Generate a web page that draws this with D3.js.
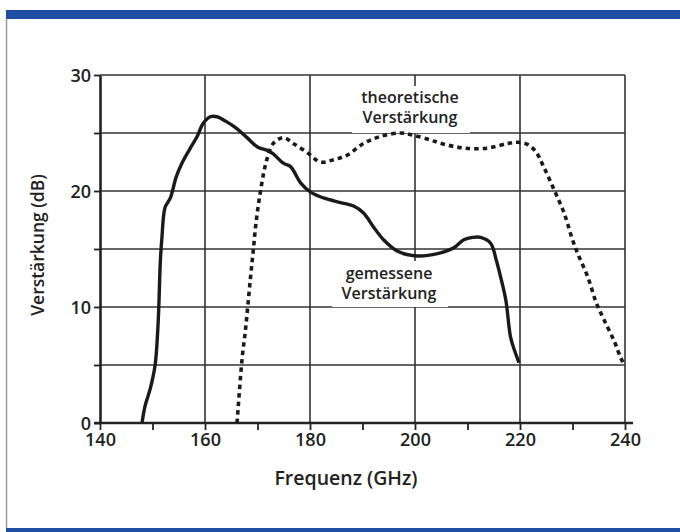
<!DOCTYPE html>
<html><head><meta charset="utf-8">
<script src="https://cdn.jsdelivr.net/npm/d3@7/dist/d3.min.js"></script>
<style>
html,body{margin:0;padding:0;background:#fff;}
svg{display:block;}
text{font-family:"Open Sans",sans-serif;fill:#222;}
</style></head>
<body>
<script>
// ---- data ----
const measuredFreq = [148.0,148.6,149.6,150.5,151.0,151.2,151.5,151.8,152.4,153.4,154.5,155.6,157.2,158.5,159.6,161.0,162.3,164.0,166.0,168.0,170.0,171.9,173.0,174.9,176.3,178.2,180.1,182.6,185.8,188.3,190.2,192.1,194.0,196.7,200.5,204.3,207.4,209.3,211.0,212.5,214.4,215.5,216.3,217.3,218.2,219.0,219.8];
const measuredGain = [0,1.5,3,5,8,10,14,16,18.6,19.4,21.2,22.4,23.7,24.7,25.8,26.4,26.4,26.0,25.4,24.6,23.8,23.5,23.2,22.4,22.1,20.7,19.9,19.4,19.0,18.7,18.1,16.9,15.8,14.8,14.4,14.6,15.1,15.8,16.0,16.0,15.5,14.0,12.6,10.6,7.4,6.2,5.2];
const theoryFreq = [166.1,166.6,167.1,167.7,168.2,168.7,169.2,169.7,170.4,171.2,171.9,173.0,174.9,176.8,179.5,182.0,184.5,187.1,190.2,193.4,197.3,199.7,203.0,205.0,209.3,213.9,217.7,219.6,221.5,223.0,224.5,226.5,228.4,230.0,231.0,232.9,234.5,236.0,238.0,239.2,239.8];
const theoryGain = [0,3,5.7,8,10.3,12.7,14.9,17.2,19.5,21.6,22.9,24.1,24.6,24.1,23.3,22.5,22.7,23.1,24.1,24.7,25.0,24.8,24.4,24.1,23.7,23.7,24.1,24.2,24.0,23.4,22.1,20.1,18.1,15.8,14.6,12.6,10.4,8.9,7.0,5.6,5.1];
const xTickValues = [140,150,160,170,180,190,200,210,220,230,240];
const xTickLabels = ["140","","160","","180","","200","","220","","240"];
const yTickValues = [0,5,10,15,20,25,30];
const yTickLabels = ["0","","10","","20","","30"];
const xGrid = [160,180,200,220,240];
const yGrid = [5,10,15,20,25,30];
const xTitle = "Frequenz (GHz)";
const yTitle = "Verstärkung (dB)";
const theoryLabel = ["theoretische","Verstärkung"];
const measuredLabel = ["gemessene","Verstärkung"];

const W = 680, H = 532;
const svg = d3.select("body").append("svg").attr("width", W).attr("height", H);

// frame decoration
svg.append("rect").attr("x",6).attr("y",10).attr("width",W-6).attr("height",9).attr("fill","#1f4fa3");
svg.append("rect").attr("x",6).attr("y",528).attr("width",W-6).attr("height",4).attr("fill","#1f4fa3");
svg.append("line").attr("x1",6.5).attr("x2",6.5).attr("y1",19).attr("y2",528).attr("stroke","#9a9a9a").attr("stroke-width",1.5);

const x = d3.scaleLinear().domain([140,240]).range([100,625]);
const y = d3.scaleLinear().domain([0,30]).range([423,75]);

// grid
const g = svg.append("g");
g.selectAll("line.h").data(yGrid).join("line")
  .attr("x1", x(140)).attr("x2", x(240))
  .attr("y1", d=>y(d)).attr("y2", d=>y(d))
  .attr("stroke","#333").attr("stroke-width",1.6);
g.selectAll("line.v").data(xGrid).join("line")
  .attr("x1", d=>x(d)).attr("x2", d=>x(d))
  .attr("y1", y(0)).attr("y2", y(30))
  .attr("stroke","#333").attr("stroke-width",1.6);

// label backgrounds (mask the grid)
svg.append("rect").attr("x",352).attr("y",86).attr("width",118).attr("height",47).attr("fill","#fff");
svg.append("rect").attr("x",332).attr("y",261).attr("width",116).attr("height",46).attr("fill","#fff");

// axes
const yAxis = d3.axisLeft(y).tickValues(yTickValues).tickSize(6).tickSizeOuter(0)
  .tickFormat((d,i)=>yTickLabels[i]);
const ya = svg.append("g").attr("transform",`translate(${x(140)},0)`).call(yAxis);
ya.select(".domain").attr("stroke","#222").attr("stroke-width",2.6);
ya.selectAll(".tick line").attr("stroke","#222").attr("stroke-width",1.8);
ya.selectAll(".tick text").attr("x",-9).attr("dy","0.36em")
  .style("font-size","18px").style("font-weight",600).attr("fill","#222");

const xAxis = d3.axisBottom(x).tickValues(xTickValues).tickSize(7).tickSizeOuter(0)
  .tickFormat((d,i)=>xTickLabels[i]);
const xa = svg.append("g").attr("transform",`translate(0,${y(0)})`).call(xAxis);
xa.select(".domain").attr("stroke","#222").attr("stroke-width",2.6).attr("d",`M${x(140)-6},0H${x(240)+8}`);
xa.selectAll(".tick line").attr("stroke","#222").attr("stroke-width",1.8);
xa.selectAll(".tick text").attr("y",10).attr("dy","0.71em")
  .style("font-size","18px").style("font-weight",600).attr("fill","#222");

// titles
svg.append("text").attr("x",346).attr("y",485).attr("text-anchor","middle")
  .style("font-size","19.5px").style("font-weight",600).text(xTitle);
svg.append("text").attr("transform","translate(44,245) rotate(-90)").attr("text-anchor","middle")
  .style("font-size","17.5px").style("font-weight",600).text(yTitle);

// curve labels
const tl = svg.append("text").attr("text-anchor","middle").style("font-size","16px").style("font-weight",600);
tl.append("tspan").attr("x",410).attr("y",103).text(theoryLabel[0]);
tl.append("tspan").attr("x",410).attr("y",123).text(theoryLabel[1]);
const ml = svg.append("text").attr("text-anchor","middle").style("font-size","16px").style("font-weight",600);
ml.append("tspan").attr("x",389).attr("y",279).text(measuredLabel[0]);
ml.append("tspan").attr("x",389).attr("y",299).text(measuredLabel[1]);

// curves
const line = d3.line().x(d=>x(d[0])).y(d=>y(d[1])).curve(d3.curveCatmullRom.alpha(0.5));
const theory = theoryFreq.map((f,i)=>[f,theoryGain[i]]);
const measured = measuredFreq.map((f,i)=>[f,measuredGain[i]]);
svg.append("path").datum(theory).attr("d",line).attr("fill","none")
  .attr("stroke","#1a1a1a").attr("stroke-width",3.6).attr("stroke-dasharray","4.5,4");
svg.append("path").datum(measured).attr("d",line).attr("fill","none")
  .attr("stroke","#1a1a1a").attr("stroke-width",3.4).attr("stroke-linejoin","round");
</script>
</body></html>
